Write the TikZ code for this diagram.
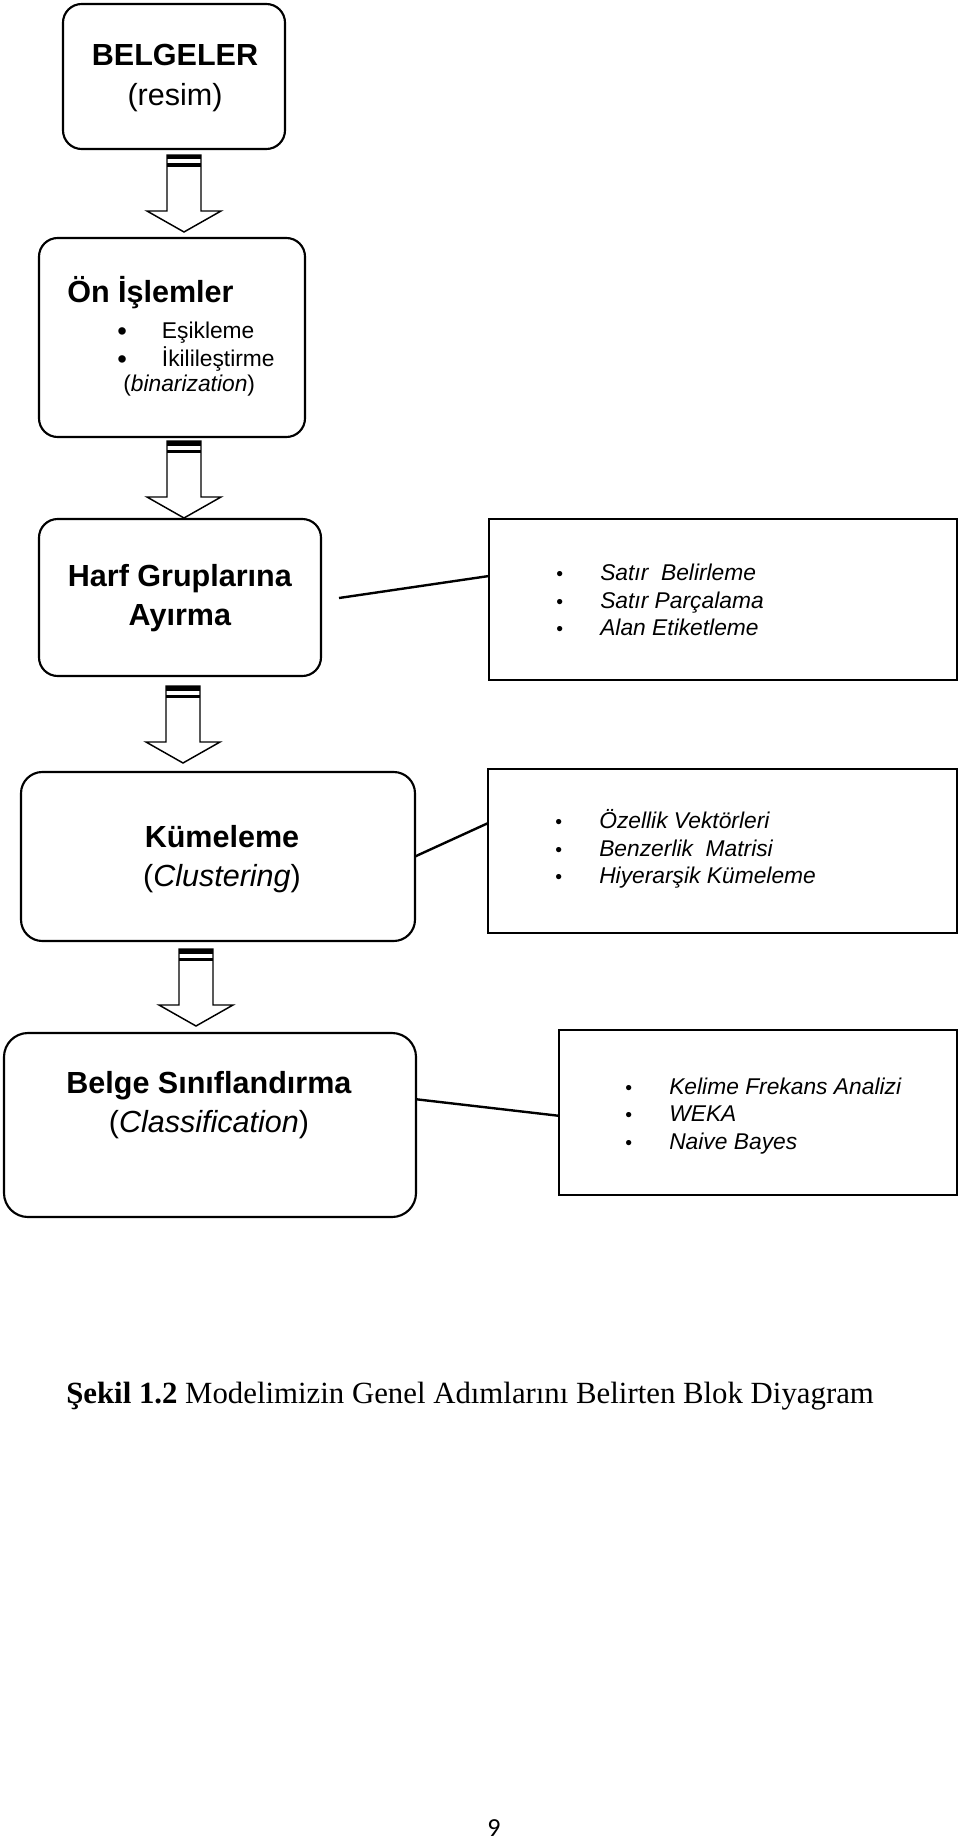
\documentclass[tikz,border=0pt]{standalone}
\usepackage{fontspec}
\setmainfont{Liberation Sans}
\newfontfamily\capfont{Liberation Serif}
\newfontfamily\numfont{Carlito}
\usetikzlibrary{calc}

\tikzset{
	roundbox/.style={draw, line width=1.6pt, rounded corners=14pt, inner sep=0pt, outer sep=0pt},
	listbox/.style={draw, line width=1.6pt, inner sep=0pt, outer sep=0pt},
	link/.style={line width=1.8pt},
	arrowline/.style={line width=1.1pt, line join=miter},
	bigtext/.style={font=\fontsize{22.9}{29.5}\selectfont, align=center, inner sep=0pt},
	smalltext/.style={font=\fontsize{17.1}{20.6}\selectfont, align=left, inner sep=0pt},
}

% block arrow hanging down from a top point
\newcommand{\blockarrow}[1]{%
	\draw[arrowline] (#1) ++(-17,0) -- ++(34,0) -- ++(0,56) -- ++(20,0) -- ++(-37,21) -- ++(-37,-21) -- ++(20,0) -- cycle ;
	\fill (#1) ++(-17,0) rectangle ++(34,4.5) ;
	\fill (#1) ++(-17,8.5) rectangle ++(34,3.5) ;
}
\newcommand{\itm}[1]{\makebox[33pt][l]{\scalebox{0.85}{•}}\textit{#1}}
\newcommand{\bigdot}{\makebox[33.5pt][l]{\raisebox{-0.09em}{\scalebox{1.2}{•}}}}

\begin{document}
\begin{tikzpicture}[x=0.75pt,y=0.75pt,yscale=-1,xscale=1]
	\useasboundingbox (0,0) rectangle (960,1841);

	% boxes
	\node[roundbox, minimum width=166.5pt, minimum height=108.75pt] (belge) at (174,76.5) {};
	\node[roundbox, minimum width=199.5pt, minimum height=149.25pt] (onis) at (172,337.5) {};
	\node[roundbox, minimum width=211.5pt, minimum height=117.75pt] (harf) at (180,597.5) {};
	\node[listbox, minimum width=351pt, minimum height=120.75pt] (satir) at (723,599.5) {};
	\node[roundbox, rounded corners=16pt, minimum width=295.5pt, minimum height=126.75pt] (kume) at (218,856.5) {};
	\node[listbox, minimum width=351.75pt, minimum height=123pt] (ozel) at (722.5,851) {};
	\node[roundbox, rounded corners=18pt, minimum width=309pt, minimum height=138pt] (sinif) at (210,1125) {};
	\node[listbox, minimum width=298.5pt, minimum height=123.75pt] (kelime) at (758,1112.5) {};

	% texts
	\node[bigtext] (belgetxt) at (175,78) {\textbf{BELGELER}\\(resim)};
	\node[bigtext, anchor=west] (onistxt) at (67,293) {\textbf{Ön İşlemler}};
	\node[smalltext, anchor=west] (onisa) at (117,333) {\bigdot Eşikleme};
	\node[smalltext, anchor=west] (onisb) at (117,359) {\bigdot İkilileştirme};
	\node[smalltext, anchor=west] (onisc) at (123,386) {(\textit{binarization})};
	\node[bigtext] (harftxt) at (180,598) {\textbf{Harf Gruplarına}\\\textbf{Ayırma}};
	\node[smalltext, anchor=west] (satirtxt) at (556,600) {\itm{Satır~ Belirleme}\\\itm{Satır Parçalama}\\\itm{Alan Etiketleme}};
	\node[bigtext] (kumetxt) at (222,859) {\textbf{Kümeleme}\\(\textit{Clustering})};
	\node[smalltext, anchor=west] (ozeltxt) at (555,849) {\itm{Özellik Vektörleri}\\\itm{Benzerlik~ Matrisi}\\\itm{Hiyerarşik Kümeleme}};
	\node[bigtext] (siniftxt) at (209,1105) {\textbf{Belge Sınıflandırma}\\(\textit{Classification})};
	\node[smalltext, anchor=west] (kelimetxt) at (625,1116) {\itm{Kelime Frekans Analizi}\\\itm{WEKA}\\\itm{Naive Bayes}};

	% block arrows
	\path (belge.south) ++(10,6) coordinate (a1);
	\path (onis.south) ++(12,4) coordinate (a2);
	\path (harf.south) ++(3,10) coordinate (a3);
	\path (kume.south) ++(-22,8) coordinate (a4);
	\blockarrow{a1}
	\blockarrow{a2}
	\blockarrow{a3}
	\blockarrow{a4}

	% links to the lists
	\coordinate (h1) at (339,598);
	\draw[link] (h1) -- ($(satir.north west)!0.354!(satir.south west)$);
	\draw[link] (kume.east) -- ($(ozel.north west)!0.33!(ozel.south west)$);
	\draw[link] ($(sinif.north east)!0.36!(sinif.south east)$) -- ($(kelime.north west)!0.52!(kelime.south west)$);

	% caption and page number
	\node[anchor=base west, inner sep=0pt, font=\capfont\fontsize{23.1}{28}\selectfont] (caption) at (66,1403) {\textbf{Şekil 1.2} Modelimizin Genel Adımlarını Belirten Blok Diyagram};
	\node[inner sep=0pt, font=\numfont\fontsize{19.5}{24}\selectfont] (pageno) at (494,1828) {9};
\end{tikzpicture}
\end{document}
